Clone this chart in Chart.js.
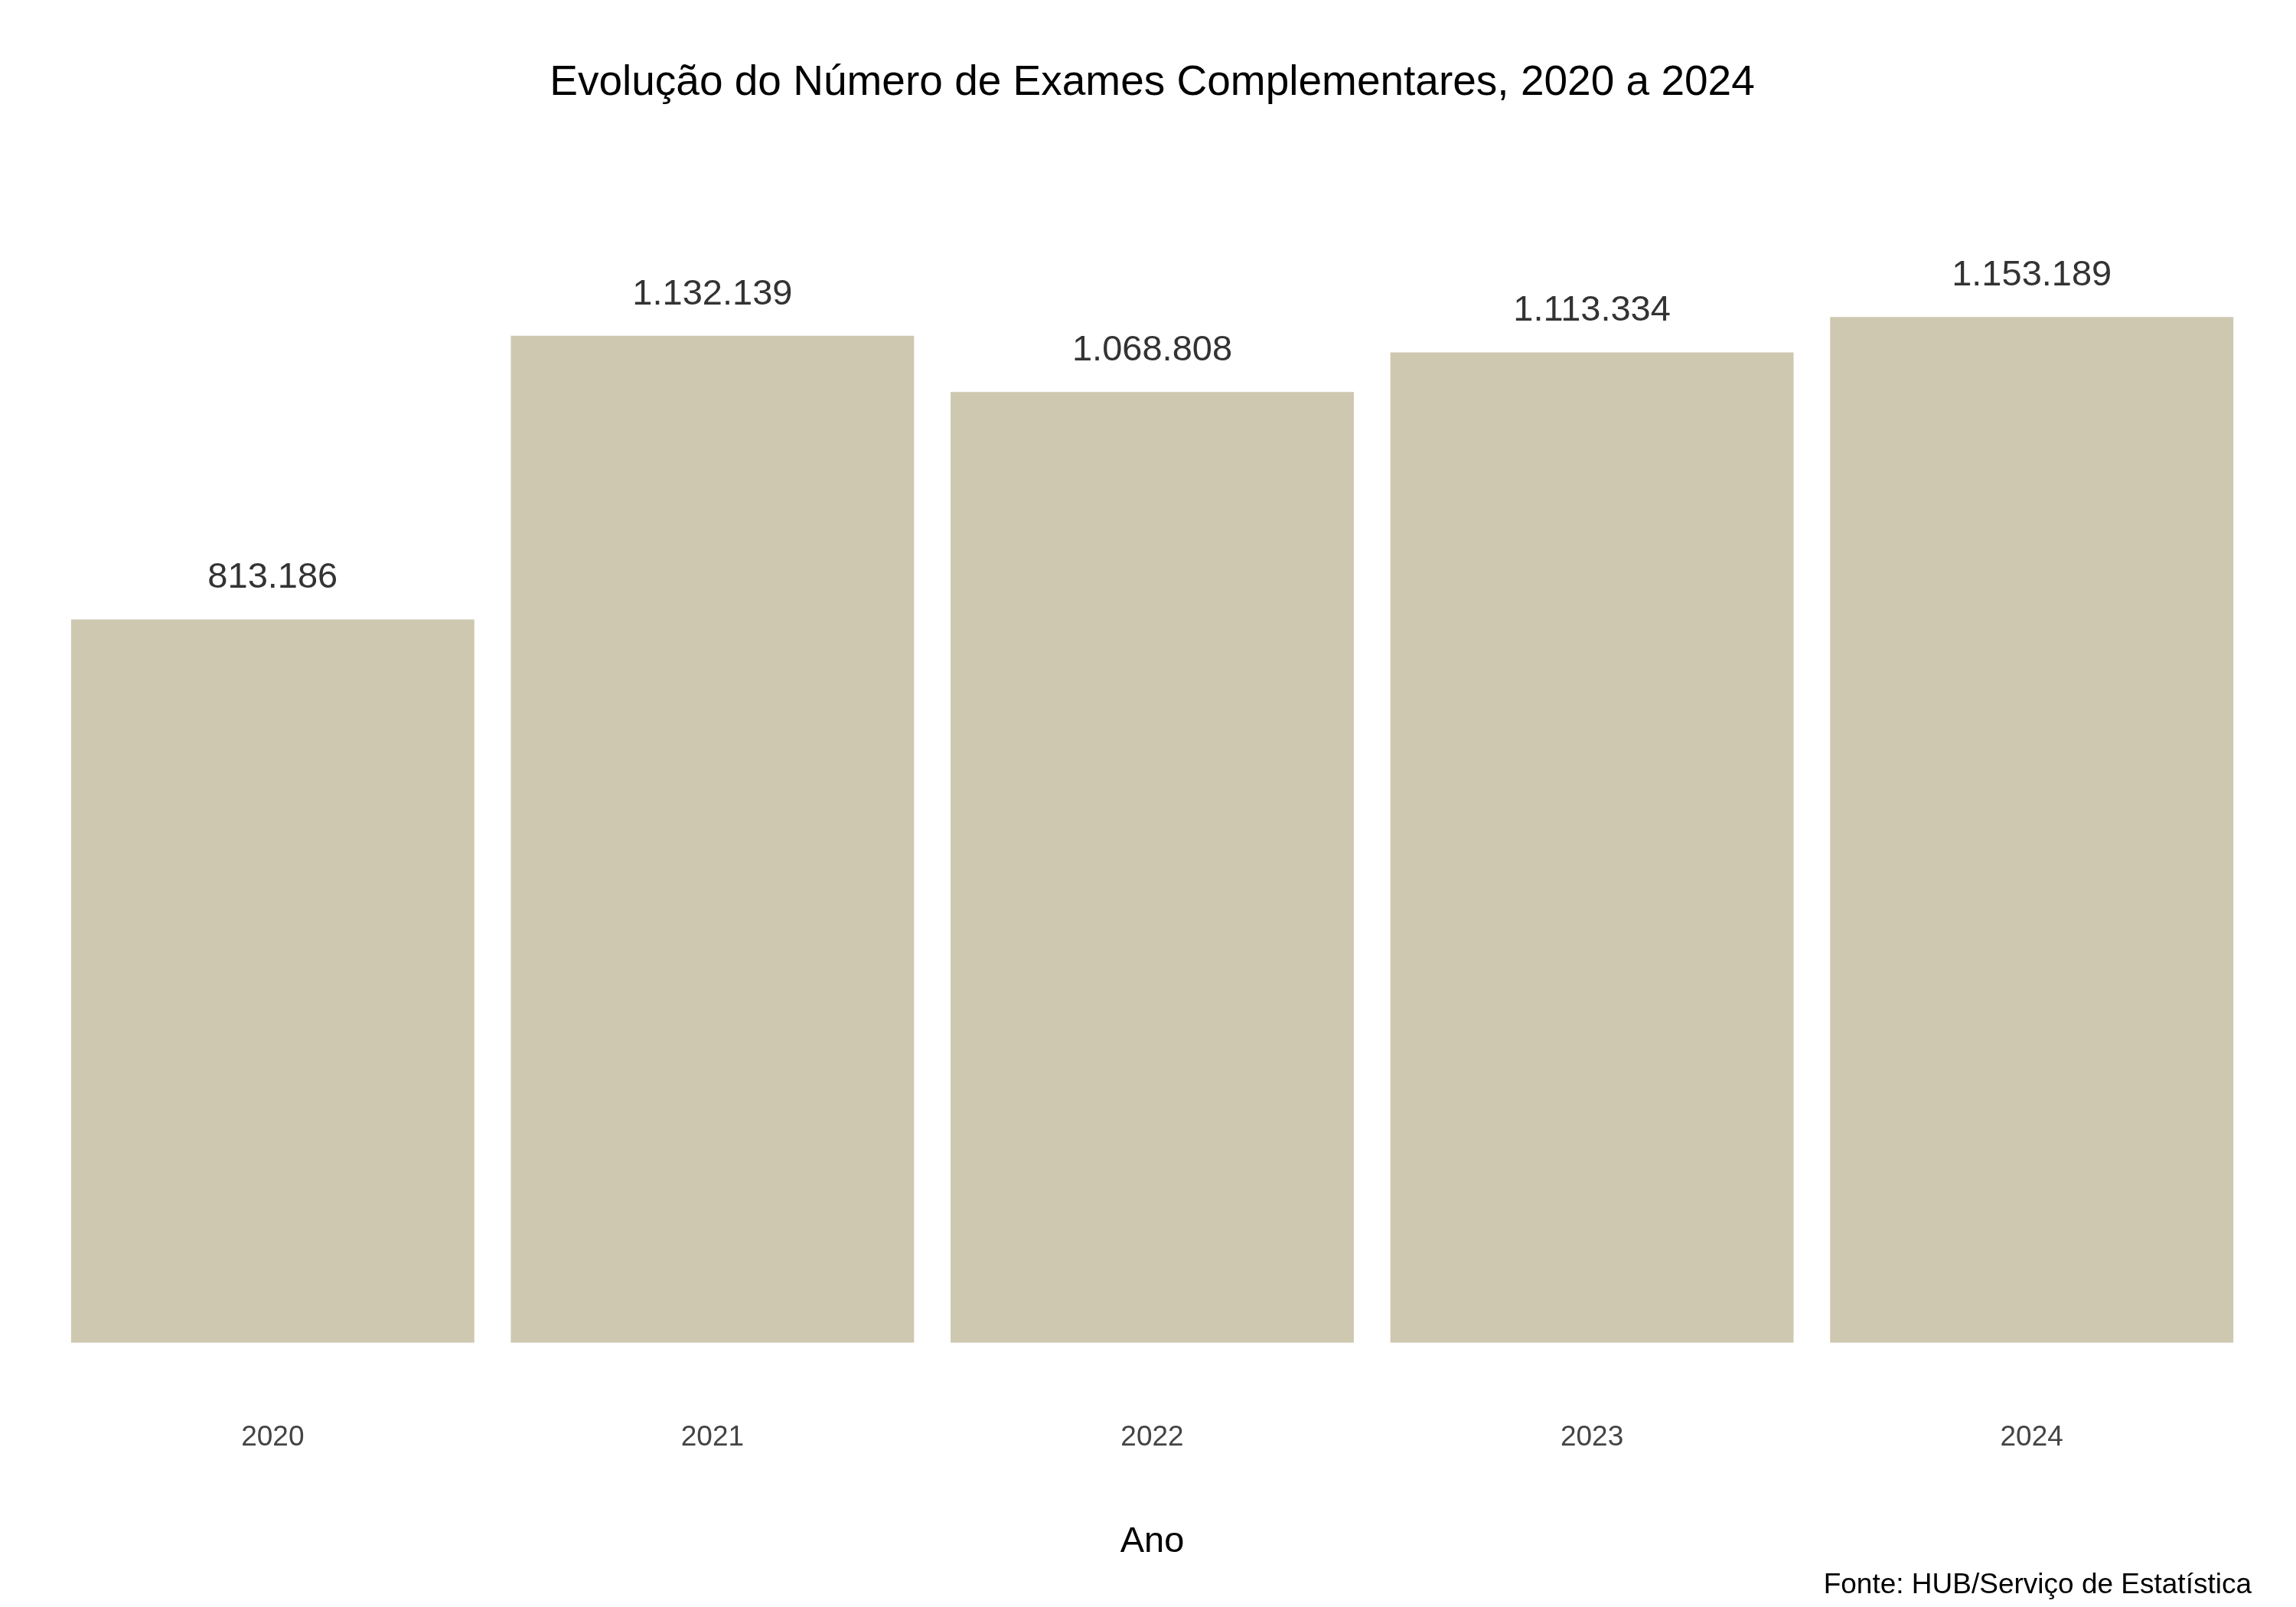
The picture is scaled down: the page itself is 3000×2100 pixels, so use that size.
<!DOCTYPE html>
<html><head><meta charset="utf-8">
<script src="https://cdn.jsdelivr.net/npm/chart.js@4"></script>
<style>html,body{margin:0;padding:0;background:#fff}#w{width:3000px;height:2100px}</style>
</head><body><div id="w"><canvas id="c"></canvas></div>
<script>
const anos = ['2020','2021','2022','2023','2024'];
const exames = [813186, 1132139, 1068808, 1113334, 1153189];
const titulo = 'Evolução do Número de Exames Complementares, 2020 a 2024';
const fonte = 'Fonte: HUB/Serviço de Estatística';
const fmt = v => v.toString().replace(/\B(?=(\d{3})+(?!\d))/g, '.');
const FF = '"Liberation Sans", Arial, sans-serif';
const labels = {id:'lab', afterDatasetsDraw(ch){
  const ctx=ch.ctx; ctx.save(); ctx.font='47px '+FF; ctx.fillStyle='#333'; ctx.textAlign='center'; ctx.textBaseline='middle';
  ch.getDatasetMeta(0).data.forEach((b,i)=>ctx.fillText(fmt(exames[i]), b.x, b.y-54)); ctx.restore();}};
new Chart(document.getElementById('c'), {
  type:'bar',
  data:{labels:anos, datasets:[{data:exames, backgroundColor:'#CFC8B1', barPercentage:0.917, categoryPercentage:1}]},
  options:{responsive:true, maintainAspectRatio:false, animation:false,
    layout:{padding:{left:69,right:58,top:0,bottom:0}},
    plugins:{legend:{display:false}, tooltip:{enabled:false},
      title:{display:true, text:titulo, color:'#000', font:{family:FF,size:55,weight:'normal'}, padding:{top:76,bottom:77}},
      subtitle:{display:true, position:'bottom', align:'end', text:fonte, color:'#000', font:{family:FF,size:37}, padding:{top:6,bottom:6}}},
    scales:{
      x:{grid:{display:false}, border:{display:false}, ticks:{color:'#444', font:{family:FF,size:37}, padding:94},
         title:{display:true, text:'Ano', color:'#000', font:{family:FF,size:47}, padding:{top:-8,bottom:0}}},
      y:{display:false, min:0, max:1321060}
    }},
  plugins:[labels]
});
</script></body></html>
